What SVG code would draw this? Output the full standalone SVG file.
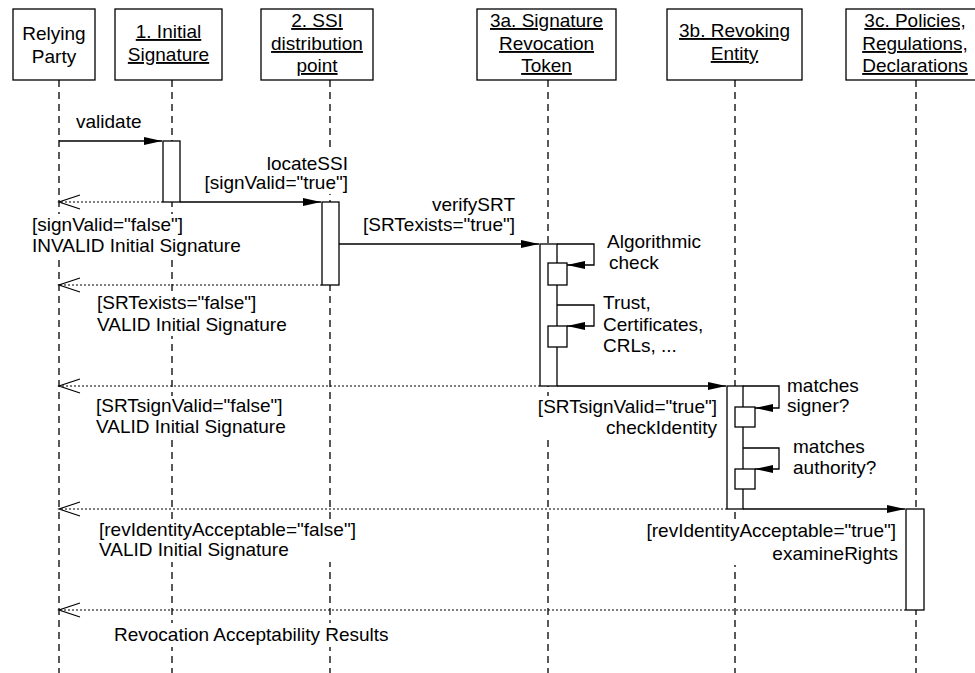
<svg xmlns="http://www.w3.org/2000/svg" width="975" height="673" viewBox="0 0 975 673">
<style>
.box{fill:#fff;stroke:#000;stroke-width:1.3}
.life{stroke:#000;stroke-width:1.3;stroke-dasharray:7 5;fill:none}
.act{fill:#fff;stroke:#000;stroke-width:1.3}
.msg{stroke:#000;stroke-width:1.3;fill:none;marker-end:url(#fa)}
.ret{stroke:#000;stroke-width:1.2;stroke-dasharray:2 2;fill:none;marker-end:url(#oa)}
.bg{fill:#fff;stroke:none}
text{font-family:"Liberation Sans",Arial,sans-serif;font-size:19px;fill:#000}
.c{text-anchor:middle}
.e{text-anchor:end}
.u{text-decoration:underline}
</style>
<defs>
<marker id="fa" markerWidth="18" markerHeight="10" refX="18" refY="5" orient="auto" markerUnits="userSpaceOnUse" overflow="visible"><path d="M0,1 L18,5 L0,9 Z" fill="#000" stroke="none"/></marker>
<marker id="oa" markerWidth="22" markerHeight="16" refX="0" refY="0" orient="auto" markerUnits="userSpaceOnUse" overflow="visible"><path d="M-21,-7 L0,0 L-21,7" fill="none" stroke="#000" stroke-width="1.2" stroke-dasharray="none"/></marker>
</defs>
<rect width="975" height="673" fill="#fff"/>

<g id="relying-party">
<line class="life" x1="59" y1="80" x2="59" y2="673"/>
<rect class="box" x="13" y="9" width="82" height="71"/>
<text class="c" x="54" y="40">Relying</text>
<text class="c" x="54" y="63">Party</text>
</g>
<g id="initial-signature">
<line class="life" x1="172" y1="80" x2="172" y2="673"/>
<rect class="box" x="115" y="9" width="107" height="71"/>
<text class="c u" x="168.5" y="38">1. Initial</text>
<text class="c u" x="168.5" y="61">Signature</text>
<rect class="act" x="163" y="141" width="17" height="61"/>
</g>
<g id="ssi-distribution-point">
<line class="life" x1="330" y1="80" x2="330" y2="673"/>
<rect class="box" x="261" y="9" width="112" height="71"/>
<text class="c u" x="317" y="27">2. SSI</text>
<text class="c u" x="317" y="50">distribution</text>
<text class="c u" x="317" y="72">point</text>
<rect class="act" x="322" y="202" width="17" height="83"/>
</g>
<g id="signature-revocation-token">
<line class="life" x1="548" y1="80" x2="548" y2="673"/>
<rect class="box" x="477" y="9" width="139" height="71"/>
<text class="c u" x="546.5" y="27">3a. Signature</text>
<text class="c u" x="546.5" y="50">Revocation</text>
<text class="c u" x="546.5" y="72">Token</text>
<rect class="act" x="540" y="244" width="17" height="142"/>
<rect class="act" x="548" y="263" width="19" height="22"/>
<rect class="act" x="548" y="326" width="19" height="21"/>
</g>
<g id="revoking-entity">
<line class="life" x1="735" y1="80" x2="735" y2="673"/>
<rect class="box" x="667" y="9" width="135" height="71"/>
<text class="c u" x="734.5" y="37">3b. Revoking</text>
<text class="c u" x="734.5" y="60">Entity</text>
<rect class="act" x="727" y="386" width="16" height="123"/>
<rect class="act" x="735" y="407" width="20" height="20"/>
<rect class="act" x="735" y="469" width="20" height="20"/>
</g>
<g id="policies-regulations-declarations">
<line class="life" x1="916" y1="80" x2="916" y2="673"/>
<rect class="box" x="846" y="9" width="140" height="71"/>
<text class="c u" x="915" y="27">3c. Policies,</text>
<text class="c u" x="915" y="50">Regulations,</text>
<text class="c u" x="915" y="72">Declarations</text>
<rect class="act" x="906" y="509" width="18" height="101"/>
</g>

<g id="labels">
<text x="76" y="128">validate</text>
<rect class="bg" x="200" y="152" width="150" height="42"/>
<text class="e" x="348" y="170">locateSSI</text>
<text class="e" x="348" y="189">[signValid="true"]</text>
<rect class="bg" x="29" y="214" width="220" height="44"/>
<text x="32" y="231">[signValid="false"]</text>
<text x="32" y="252">INVALID Initial Signature</text>
<text class="e" x="515" y="211">verifySRT</text>
<text class="e" x="515" y="231">[SRTexists="true"]</text>
<text x="607" y="248">Algorithmic</text>
<text x="609" y="269">check</text>
<text x="603" y="309">Trust,</text>
<text x="603" y="331">Certificates,</text>
<text x="603" y="352">CRLs, ...</text>
<rect class="bg" x="94" y="294" width="176" height="42"/>
<text x="97" y="309">[SRTexists="false"]</text>
<text x="97" y="331">VALID Initial Signature</text>
<rect class="bg" x="92" y="396" width="202" height="42"/>
<text x="96" y="412">[SRTsignValid="false"]</text>
<text x="96" y="433">VALID Initial Signature</text>
<rect class="bg" x="513" y="396" width="207" height="44"/>
<text class="e" x="717" y="413">[SRTsignValid="true"]</text>
<text class="e" x="717" y="434">checkIdentity</text>
<text x="787" y="392">matches</text>
<text x="787" y="412">signer?</text>
<text x="793" y="453">matches</text>
<text x="793" y="474">authority?</text>
<rect class="bg" x="96" y="520" width="264" height="42"/>
<text x="99" y="536">[revIdentityAcceptable="false"]</text>
<text x="99" y="556">VALID Initial Signature</text>
<rect class="bg" x="638" y="520" width="264" height="45"/>
<text class="e" x="896" y="537">[revIdentityAcceptable="true"]</text>
<text class="e" x="898" y="560">examineRights</text>
<rect class="bg" x="110" y="623" width="290" height="24"/>
<text x="114" y="641">Revocation Acceptability Results</text>
</g>

<g id="connectors">
<path class="msg" d="M59,141 H162"/>
<path class="ret" d="M163,202 H59"/>
<path class="msg" d="M180,202 H321"/>
<path class="ret" d="M322,285 H59"/>
<path class="msg" d="M339,244 H539"/>
<path class="msg" d="M557,244 H594 V265 H567"/>
<path class="msg" d="M557,305 H594 V326 H567"/>
<path class="ret" d="M540,386 H59"/>
<path class="msg" d="M557,386 H726"/>
<path class="msg" d="M743,386 H779 V408 H755"/>
<path class="msg" d="M743,448 H779 V469 H755"/>
<path class="ret" d="M727,509 H59"/>
<path class="msg" d="M743,509 H905"/>
<path class="ret" d="M906,610 H59"/>
</g>
</svg>
